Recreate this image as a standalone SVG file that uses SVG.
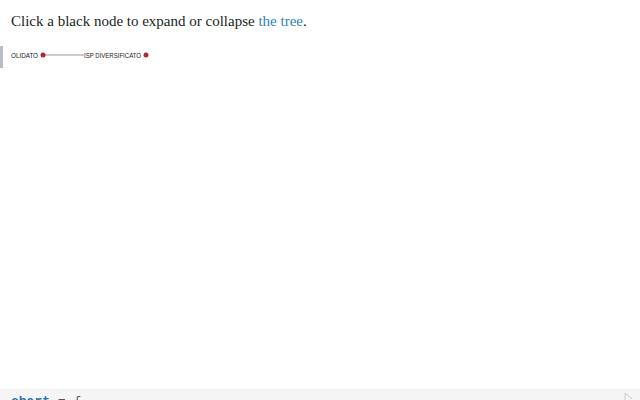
<svg xmlns="http://www.w3.org/2000/svg" width="640" height="400" viewBox="0 0 640 400">
<style>
.title{font-family:"Liberation Sans Narrow","Liberation Serif","DejaVu Serif",serif;font-size:15px;fill:#1b1e23}
.title{font-family:"Liberation Serif","DejaVu Serif",serif}
.link{fill:#3182bd}
.lbl{font-family:"Liberation Sans","DejaVu Sans",sans-serif;font-size:7.2px;fill:#222}
.node circle{fill:#b0282e}
.conn path{fill:none;stroke:#999;stroke-width:1}
.code{font-family:"Liberation Mono","DejaVu Sans Mono",monospace;font-size:13px}
</style>
<rect width="640" height="400" fill="#fff"/>
<text class="title" x="11" y="26">Click a black node to expand or collapse <tspan class="link">the tree</tspan>.</text>
<rect x="0" y="46" width="3" height="22" fill="#b8bcc6"/>
<g class="conn">
<path d="M43,55 L84,55"/>
</g>
<g id="node-olidato" class="node">
<text class="lbl" x="11" y="57.6" textLength="27" lengthAdjust="spacingAndGlyphs">OLIDATO</text>
<circle cx="43" cy="55" r="2.5"/>
</g>
<g id="node-isp" class="node">
<text class="lbl" x="84" y="57.6" textLength="57" lengthAdjust="spacingAndGlyphs">ISP DIVERSIFICATO</text>
<circle cx="146" cy="55" r="2.5"/>
</g>
<rect x="0" y="389" width="640" height="11" fill="#f5f5f5"/>
<text class="code" x="11" y="405"><tspan fill="#2a6fb0" font-weight="bold">chart</tspan><tspan fill="#555"> = {</tspan></text>
<path d="M625,393 l0,8 M625,393 l7,6" stroke="#ccc" fill="none"/>
</svg>
